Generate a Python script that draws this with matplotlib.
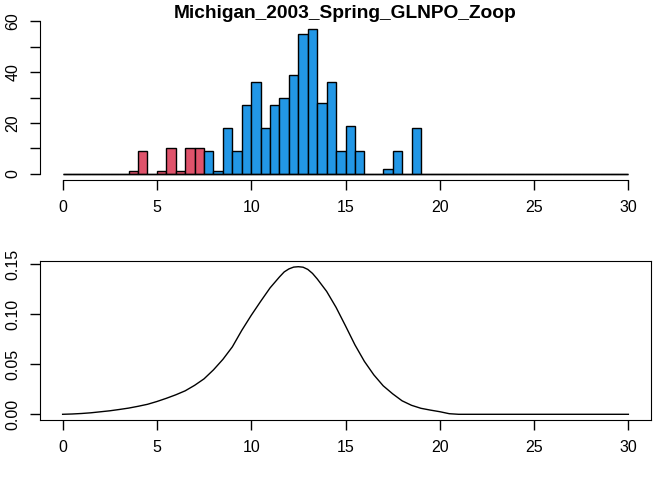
import numpy as np
import matplotlib
matplotlib.use("Agg")
import matplotlib.pyplot as plt

# ---- data ----
title = "Michigan_2003_Spring_GLNPO_Zoop"

bin_width = 0.5
bin_lefts = np.arange(0, 30, bin_width)          # 60 bins, 0..30
counts = [0, 0, 0, 0, 0, 0, 0, 1, 9, 0,
          1, 10, 1, 10, 10, 9, 1, 18, 9, 27,
          36, 18, 27, 30, 39, 55, 57, 28, 36, 9,
          19, 9, 0, 0, 2, 9, 0, 18, 0, 0,
          0, 0, 0, 0, 0, 0, 0, 0, 0, 0,
          0, 0, 0, 0, 0, 0, 0, 0, 0, 0]
red_below = 7.5   # bins left of this are drawn red

dens_x = [0.0, 0.5, 1.0, 1.5, 2.0, 2.5, 3.0, 3.5, 4.0, 4.5,
          5.0, 5.5, 6.0, 6.5, 7.0, 7.5, 8.0, 8.5, 9.0, 9.5,
          10.0, 10.5, 11.0, 11.5, 11.75, 12.0, 12.25, 12.5, 12.75, 13.0,
          13.25, 13.5, 14.0, 14.5,
          15.0, 15.5, 16.0, 16.5, 17.0, 17.5, 18.0, 18.5, 19.0, 19.5,
          20.0, 20.5, 21.0, 22.0, 24.0, 26.0, 28.0, 30.0]
dens_y = [0.0000, 0.0003, 0.0008, 0.0015, 0.0025, 0.0035, 0.0048, 0.0062, 0.0080, 0.0100,
          0.0128, 0.0160, 0.0195, 0.0235, 0.0290, 0.0355, 0.0445, 0.0550, 0.0675, 0.0840,
          0.0990, 0.1130, 0.1265, 0.1375, 0.1425, 0.1455, 0.1473, 0.1477, 0.1472, 0.1450,
          0.1410, 0.1355, 0.1230, 0.1070,
          0.0885, 0.0695, 0.0530, 0.0395, 0.0285, 0.0205, 0.0135, 0.0090, 0.0060, 0.0042,
          0.0026, 0.0006, 0.0000, 0.0000, 0.0000, 0.0000, 0.0000, 0.0000]

red = "#DF536B"
blue = "#2297E6"

plt.rcParams['font.family'] = ['Liberation Sans', 'DejaVu Sans']
plt.rcParams['font.size'] = 11.5

fig = plt.figure(figsize=(6.72, 4.8), dpi=100)
ax1 = fig.add_axes([40/672, 1-180.1/480, 611/672, 165.2/480])
ax2 = fig.add_axes([40/672, 1-420.2/480, 611/672, 159.4/480])


def r_axis_style(ax):
    ax.tick_params(direction='out', length=7, width=1, pad=7, labelsize=11.5)
    for lab in ax.get_yticklabels():
        lab.set_rotation(90)
        lab.set_va('center')


# ---- top: histogram ----
cols = [red if left < red_below else blue for left in bin_lefts]
ax1.hlines(0, bin_lefts[0], bin_lefts[-1] + bin_width, color='black', linewidth=1)
ax1.bar(bin_lefts, counts, width=bin_width, align='edge',
        color=cols, edgecolor='black', linewidth=1)
ax1.set_xlim(-1.2, 31.2)
ax1.set_ylim(-0.04 * 60, 60 * 1.04)
ax1.set_xticks(np.arange(0, 31, 5))
ax1.set_yticks(np.arange(0, 61, 10))
ax1.set_yticklabels(['0', '', '20', '', '40', '', '60'])
for s in ['top', 'right']:
    ax1.spines[s].set_visible(False)
ax1.spines['left'].set_bounds(0, 60)
ax1.spines['bottom'].set_bounds(0, 30)
r_axis_style(ax1)

fig.text(345.5/672, 1-18.3/480, title, ha='center', va='baseline',
         fontsize=13.8, fontweight='bold')

# ---- bottom: density ----
ymax = max(dens_y)
ax2.plot(dens_x, dens_y, color='black', linewidth=1)
ax2.set_xlim(-1.2, 31.2)
ax2.set_ylim(-0.04 * ymax, ymax * 1.04)
ax2.set_xticks(np.arange(0, 31, 5))
ax2.set_yticks([0.0, 0.05, 0.10, 0.15])
ax2.set_yticklabels(['0.00', '0.05', '0.10', '0.15'])
r_axis_style(ax2)

fig.savefig("out.png", dpi=100)
